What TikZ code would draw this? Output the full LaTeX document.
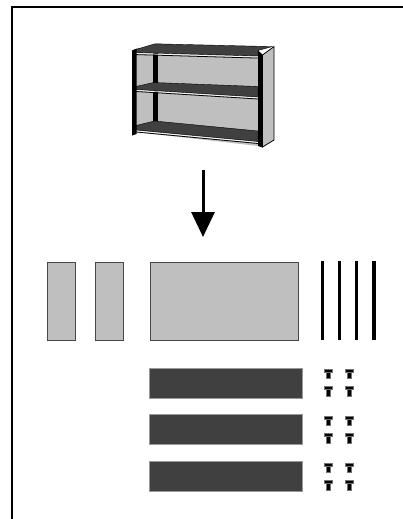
\documentclass[tikz,border=0pt]{standalone}
\usetikzlibrary{arrows.meta}
\begin{document}
\begin{tikzpicture}[x=1pt,y=-1pt,
  lightgray/.style={fill=black!25},
  darkgray/.style={fill=black!75},
  panel/.style={draw=black!72,line width=0.7pt,fill=black!25,inner sep=0pt,anchor=north west},
  board/.style={draw=black!40,line width=0.5pt,fill=black!75,inner sep=0pt,anchor=north west},
  rod/.style={line width=3.3pt,draw=black},
  lip/.style={line width=0.8pt},
  pics/screw/.style={code={
    \filldraw[fill=black,draw=black!55,line width=0.3pt] (-4,-4.8) rectangle (4,-1.7);
    \filldraw[fill=black,draw=black!55,line width=0.3pt] (-1.7,-1.7) rectangle (1.7,4.8);
  }}]
\useasboundingbox (0,0) rectangle (403,519);

% frame
\draw[line width=2.2pt] (12,519) -- (12,7) -- (403,7);

% ---- assembled cabinet ----
% inside of the carcass
\fill[lightgray] (136,48) -- (258,50) -- (258,146) -- (136,132) -- cycle;
% left back post
\fill[black] (153,52) rectangle (157.5,82.5);
\fill[black] (153,91) rectangle (157.5,122);
% top shelf with its front lip
\filldraw[darkgray,draw=black,line width=0.4pt] (134,50) -- (155,43.8) -- (272,46.6) -- (258,50.5) -- (258,56) -- (136,52.5) -- cycle;
\draw[white,lip] (136,53.6) -- (258,57.1);
\draw[black,lip] (136,54.6) -- (258,58.1);
% middle shelf with its front lip
\filldraw[darkgray,draw=black,line width=0.4pt] (136,86.5) -- (153.5,82.5) -- (258,86.5) -- (258,97) -- (136,89.5) -- cycle;
\draw[white,lip] (136,90.5) -- (258,98);
\draw[black,lip] (136,91.5) -- (258,99);
% bottom shelf with its front lip
\filldraw[darkgray,draw=black,line width=0.4pt] (136,125.5) -- (154.5,121) -- (258,131) -- (258,141.5) -- (136,130) -- cycle;
\draw[white,lip] (136,131) -- (258,142.5);
\draw[black,lip] (136,132) -- (258,143.5);
% left front post
\fill[black] (132,50.5) -- (136.5,48.8) -- (136.5,134) -- (132,135.5) -- cycle;
% right front post
\fill[black] (258,50.5) -- (262.5,54.5) -- (262.5,147.5) -- (258,146) -- cycle;
% right side panel
\filldraw[fill=black!25,draw=black,line width=0.8pt] (262.5,55) -- (274,46.6) -- (274,140) -- (262.5,147) -- cycle;

% ---- arrow ----
\coordinate (arrowtop) at (203,170);
\coordinate (arrowtip) at (203,237);
\draw[line width=3pt,-{Triangle[width=23pt,length=25pt]}] (arrowtop) -- (arrowtip);

% ---- loose parts ----
% side panels and back panel
\node[panel,minimum width=27.7pt,minimum height=78.3pt] (sideA) at (47.3,261.7) {};
\node[panel,minimum width=27.7pt,minimum height=78.3pt] (sideB) at (95,261.7) {};
\node[panel,minimum width=147.7pt,minimum height=78.3pt] (back) at (150,261.7) {};

% rods
\foreach \x [count=\i] in {322.3,339.8,356.5,374} {
  \coordinate (rodtop\i) at (\x,261);
  \coordinate (rodbot\i) at (\x,340);
  \draw[rod] (rodtop\i) -- (rodbot\i);
}

% shelves
\node[board,minimum width=152.4pt,minimum height=29.7pt] (shelfA) at (149.3,368) {};
\node[board,minimum width=152.4pt,minimum height=29.7pt] (shelfB) at (149.3,414) {};
\node[board,minimum width=152.4pt,minimum height=29.7pt] (shelfC) at (149.3,461) {};

% screws
\foreach \y in {373.8,391.3,420.5,438,467.5,485} {
  \pic at (328,\y) {screw};
  \pic at (349,\y) {screw};
}
\end{tikzpicture}
\end{document}
